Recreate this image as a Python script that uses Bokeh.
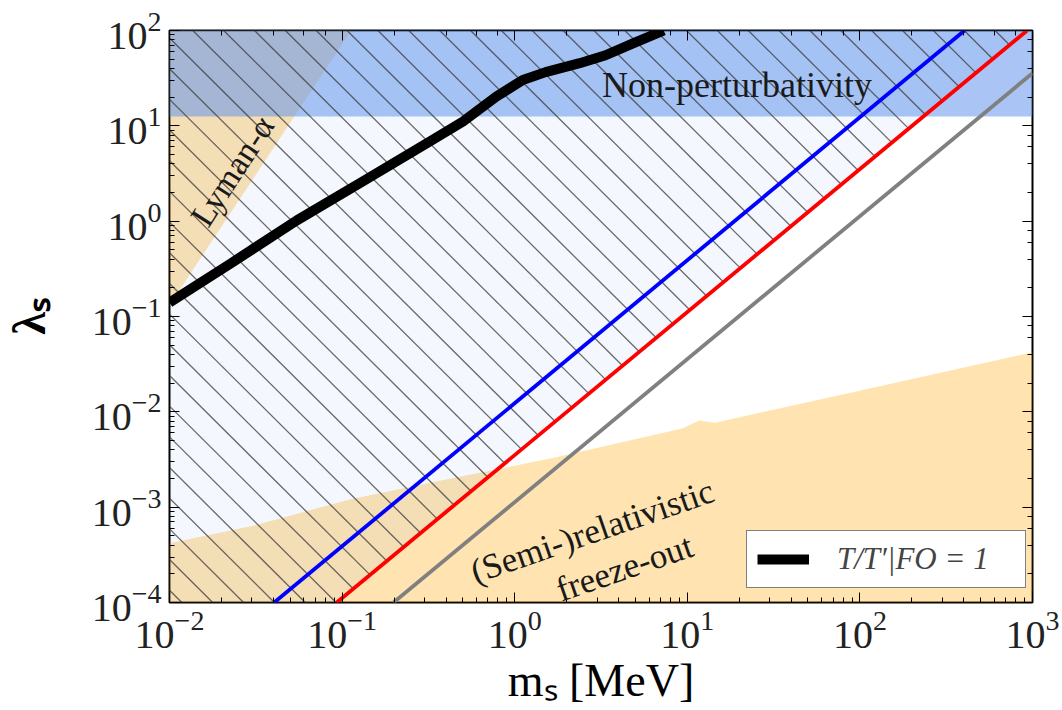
import numpy as np
from bokeh.plotting import figure
from bokeh.models import LogAxis, Label, Legend, LegendItem, Range1d
from bokeh.embed import file_html
from bokeh.resources import INLINE

# ---------------- data ----------------
m_range = [1e-2, 1e3]        # m_S [MeV]
lam_range = [1e-4, 1e2]      # lambda_S

# T/T'|FO = 1 contour (black)
tfo_m = [0.01, 0.0228, 0.0547, 0.133, 0.324, 0.502, 0.780, 1.114, 1.51, 2.38, 3.36, 5.00, 6.87, 7.3]
tfo_lam = [0.140, 0.363, 1.02, 2.64, 6.88, 11.1, 20.2, 30.3, 36.6, 45.4, 55.0, 75.0, 95.3, 100.0]

# straight reference lines (slope 3/2 in log-log)
blue_m = [0.0404, 404.0]
blue_lam = [1e-4, 100.0]
red_m = [0.0931, 931.0]
red_lam = [1e-4, 100.0]
gray_m = [0.1986, 1000.0]
gray_lam = [1e-4, 35.7]

# (semi-)relativistic freeze-out boundary
fo_m = [0.01, 0.0309, 0.1135, 0.44, 1.66, 9.33, 11.7, 14.5, 78.2, 1000.0]
fo_lam = [4.18e-4, 6.43e-4, 1.22e-3, 2.02e-3, 3.27e-3, 6.7e-3, 8.1e-3, 7.7e-3, 0.0151, 0.0422]

# Lyman-alpha boundary
lya_m = [0.01, 0.113]
lya_lam = [0.131, 100.0]

# perturbativity bound lambda = 4 pi
pert_lam = 4 * np.pi

SERIF = "Liberation Serif"
FRAME_W, FRAME_H = 867, 578
BL, BR, BT, BB = 165, 28, 30, 100

p = figure(width=BL + FRAME_W + BR, height=BT + FRAME_H + BB,
           x_axis_type="log", y_axis_type="log",
           x_range=Range1d(*m_range), y_range=Range1d(*lam_range),
           output_backend="svg", toolbar_location=None,
           min_border_left=BL, min_border_right=BR,
           min_border_top=BT, min_border_bottom=BB)
p.grid.visible = False
p.outline_line_color = "black"
p.outline_line_width = 2
p.background_fill_color = "white"
p.border_fill_color = "white"

# ---------------- regions ----------------
ORANGE = "#ffa500"
p.patch(x=[lya_m[0], lya_m[1], m_range[0]], y=[lya_lam[0], lya_lam[1], lam_range[1]],
        fill_color=ORANGE, fill_alpha=0.3, line_color=None)
p.patch(x=fo_m + [m_range[1], m_range[0]], y=fo_lam + [lam_range[0], lam_range[0]],
        fill_color=ORANGE, fill_alpha=0.3, line_color=None)
p.patch(x=[m_range[0], m_range[1], m_range[1], m_range[0]],
        y=[pert_lam, pert_lam, lam_range[1], lam_range[1]],
        fill_color="cornflowerblue", fill_alpha=0.55, line_color=None)
# excluded (hatched) region: above the red line
p.patch(x=red_m + [m_range[0], m_range[0]], y=red_lam + [lam_range[1], lam_range[0]],
        fill_color="cornflowerblue", fill_alpha=0.07, line_color=None)

# 45-degree "\" hatch of that region, clipped at the red line
HATCH = 31  # px between hatch lines (horizontally)
lx0, lx1 = np.log10(m_range)
ly0, ly1 = np.log10(lam_range)
pxx = FRAME_W / (lx1 - lx0)
pxy = FRAME_H / (ly1 - ly0)
rX = (np.log10(red_m) - lx0) * pxx
rY = (np.log10(red_lam) - ly0) * pxy
a = (rY[1] - rY[0]) / (rX[1] - rX[0])
b = rY[0] - a * rX[0]
hx, hy = [], []
for c in np.arange(HATCH * 0.4, FRAME_W + FRAME_H, HATCH):
    xs_ = max(0.0, c - FRAME_H)
    xe_ = min(FRAME_W, c, (c - b) / (1 + a))
    if xe_ > xs_:
        X = np.array([xs_, xe_])
        Y = c - X
        hx.append(list(10 ** (X / pxx + lx0)))
        hy.append(list(10 ** (Y / pxy + ly0)))
p.multi_line(hx, hy, line_color="#3a3a3a", line_alpha=0.75, line_width=1.3)

# ---------------- lines ----------------
p.line(blue_m, blue_lam, line_color="#0000ff", line_width=3.8)
p.line(red_m, red_lam, line_color="#ff0000", line_width=3.8)
p.line(gray_m, gray_lam, line_color="#808080", line_width=3.8)
black = p.line(tfo_m, tfo_lam, line_color="black", line_width=10, line_join="round")

# ---------------- axes ----------------
for ax in [p.xaxis[0], p.yaxis[0]]:
    ax.major_label_text_font = SERIF
    ax.major_label_text_font_size = "40px"
    ax.major_label_text_color = "#222222"
    ax.axis_line_color = None
    ax.major_tick_in = 10
    ax.major_tick_out = 0
    ax.minor_tick_in = 5
    ax.minor_tick_out = 0
    ax.major_tick_line_color = "black"
    ax.minor_tick_line_color = "black"
    ax.major_label_standoff = 8
    ax.axis_label_text_font = SERIF
    ax.axis_label_text_font_size = "46px"
    ax.axis_label_text_color = "black"

p.xaxis[0].axis_label = "mₛ [MeV]"
p.xaxis[0].axis_label_text_font_style = "normal"
p.xaxis[0].axis_label_standoff = 4
p.yaxis[0].axis_label = "λₛ"
p.yaxis[0].axis_label_text_font_style = "bold"
p.yaxis[0].axis_label_standoff = 34

top = LogAxis(major_label_text_font_size="8px", major_label_text_alpha=0.0,
              axis_line_color=None, major_tick_in=10, major_tick_out=0,
              minor_tick_in=5, minor_tick_out=0, major_label_standoff=0)
right = LogAxis(major_label_text_font_size="8px", major_label_text_alpha=0.0,
                axis_line_color=None, major_tick_in=10, major_tick_out=0,
                minor_tick_in=5, minor_tick_out=0, major_label_standoff=0)
p.add_layout(top, "above")
p.add_layout(right, "right")

# ---------------- region annotations ----------------
TXT = "#1a1a1a"
p.add_layout(Label(x=19.4, y=26.9, text="Non-perturbativity", text_font=SERIF,
                   text_font_size="36px", text_color=TXT, text_align="center",
                   text_baseline="middle"))
p.add_layout(Label(x=0.0231, y=3.36, text="Lyman-α", text_font=SERIF,
                   text_font_size="34px", text_color=TXT, text_align="center",
                   text_baseline="middle", angle=np.deg2rad(57)))
p.add_layout(Label(x=2.82, y=5.58e-4, text="(Semi-)relativistic", text_font=SERIF,
                   text_font_size="35px", text_color=TXT, text_align="center",
                   text_baseline="middle", angle=np.deg2rad(19)))
p.add_layout(Label(x=4.33, y=2.31e-4, text="freeze-out", text_font=SERIF,
                   text_font_size="35px", text_color=TXT, text_align="center",
                   text_baseline="middle", angle=np.deg2rad(19)))

# ---------------- legend ----------------
legend = Legend(items=[LegendItem(label="T/T′|FO = 1", renderers=[black])],
                location=(577, 14), border_line_color="black", border_line_width=1.5,
                background_fill_color="white", background_fill_alpha=1.0,
                label_text_font=SERIF, label_text_font_size="31px",
                label_text_font_style="italic", glyph_width=52, glyph_height=20,
                padding=10, label_standoff=28, label_width=178, margin=0, spacing=0)
p.add_layout(legend)

open("out.html", "w").write(file_html(p, INLINE))
